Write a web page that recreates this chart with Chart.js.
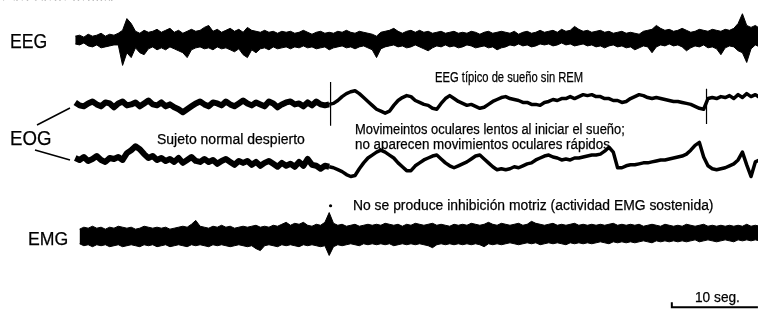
<!DOCTYPE html>
<html>
<head>
<meta charset="utf-8">
<script src="https://cdn.jsdelivr.net/npm/chart.js@4.4.0/dist/chart.umd.min.js"></script>
<style>
  body { margin: 0; background: #fff; }
  #wrap { position: relative; width: 762px; height: 316px; overflow: hidden;
          font-family: "Liberation Sans", Arial, sans-serif; color: #000; }
  canvas { position: absolute; left: 0; top: 0; }
  .lbl { position: absolute; white-space: nowrap; line-height: 1; transform-origin: left top;
         -webkit-text-stroke: 0.25px #000; }
</style>
</head>
<body>
<div id="wrap">
  <canvas id="chart" width="762" height="316"></canvas>
  <span class="lbl" data-w="113" style="left:0;top:-12px;font-size:14px">o del sueño normal</span>
  <span class="lbl" data-w="37" style="left:10px;top:31px;font-size:20px">EEG</span>
  <span class="lbl" data-w="41" style="left:10px;top:128px;font-size:20px">EOG</span>
  <span class="lbl" data-w="40" style="left:28px;top:229px;font-size:19px">EMG</span>
  <span class="lbl" data-w="148" style="left:435px;top:70px;font-size:14px">EEG típico de sueño sin REM</span>
  <span class="lbl" data-w="148" style="left:157px;top:132px;font-size:14px">Sujeto normal despierto</span>
  <span class="lbl" data-w="270" style="left:355px;top:122px;font-size:14px">Movimeintos oculares lentos al iniciar el sueño;</span>
  <span class="lbl" data-w="255" style="left:355px;top:137px;font-size:14px">no aparecen movimientos oculares rápidos</span>
  <span class="lbl" data-w="360" style="left:353px;top:198px;font-size:14px">No se produce inhibición motriz (actividad EMG sostenida)</span>
  <span class="lbl" data-w="45" style="left:695px;top:290px;font-size:14px">10 seg.</span>
</div>
<script>
// one sample every half second
var DT = 0.5;

// EEG: upper and lower edge of the trace
var eegHi = [
  3,4,2,5,3,4,6,3,5,4,
  6,9,21,16,8,6,9,7,8,10,
  7,9,11,7,9,6,8,10,8,9,
  12,14,8,10,7,9,11,8,10,7,
  12,9,8,7,9,7,8,6,8,7,
  8,6,7,9,7,5,7,8,6,7,
  6,8,7,9,7,6,8,7,6,5,
  3,7,8,9,11,8,6,8,9,7,
  9,7,8,6,7,8,6,7,8,6,
  7,6,8,7,5,7,8,6,7,8,
  7,6,8,5,7,8,6,7,9,7,
  8,9,7,10,8,9,13,10,8,9,
  7,8,9,7,8,6,7,8,6,7,
  6,5,8,9,10,14,11,9,10,8,
  9,11,9,7,8,10,9,8,10,9,
  8,10,9,11,16,26,14,12,14,11
];
var eegLo = [
  -5,-6,-4,-7,-8,-6,-9,-8,-7,-6,
  -6,-27,-14,-19,-9,-14,-16,-10,-8,-11,
  -9,-11,-8,-10,-12,-14,-19,-11,-9,-8,
  -10,-9,-11,-8,-10,-9,-11,-13,-10,-16,
  -19,-11,-14,-10,-9,-11,-8,-10,-9,-8,
  -10,-8,-9,-7,-9,-8,-10,-9,-8,-11,
  -9,-8,-7,-9,-8,-10,-8,-7,-9,-11,
  -19,-10,-8,-7,-6,-8,-7,-9,-8,-6,
  -8,-10,-12,-9,-7,-8,-6,-8,-7,-9,
  -8,-6,-7,-9,-8,-7,-9,-8,-11,-9,
  -8,-6,-7,-5,-7,-6,-8,-7,-5,-6,
  -5,-7,-6,-4,-6,-5,-7,-6,-5,-7,
  -6,-8,-7,-9,-7,-6,-8,-7,-9,-8,
  -11,-9,-7,-8,-14,-8,-6,-7,-5,-7,
  -6,-8,-12,-9,-7,-8,-6,-9,-8,-10,
  -16,-9,-7,-8,-12,-14,-24,-10,-6,-8
];

// EOG, upper and lower channel
var eogTop = [
  2,-1,-2,1,3,0,-2,2,1,-3,
  1,3,-1,0,2,-2,1,4,0,-1,
  2,-2,0,-3,-5,-8,-5,-2,1,3,
  0,-2,2,1,-1,3,0,-2,1,4,
  1,-1,2,0,-2,3,1,-3,0,2,
  3,0,1,-2,2,-1,3,0,-1,0,
  1,4,8,11,13,14,11,7,3,-1,
  -5,-7,-9,-7,-1,4,7,9,8,4,
  2,0,-1,-4,-5,1,6,9,6,3,
  1,-1,0,-2,-4,-3,0,3,5,7,
  8,6,5,4,2,2,0,0,-1,2,
  3,5,4,6,6,8,6,8,10,9,
  10,8,8,6,6,4,4,2,3,6,
  8,10,9,7,6,7,6,5,4,3,
  3,2,1,0,-2,-4,-5,6,7,6,
  8,7,9,6,10,7,11,8,10,7
];
var eogBot = [
  5,3,6,2,4,7,3,1,5,4,
  6,3,10,13,17,14,9,5,7,3,
  5,2,4,1,5,0,3,6,2,1,
  4,1,3,-1,2,4,1,-2,2,0,
  2,-2,1,-3,0,2,-1,-4,0,-3,
  -1,-4,1,-3,4,-2,-3,-6,-3,-4,
  -5,-7,-9,-12,-14,-13,-6,0,5,8,
  11,13,11,8,5,0,-4,-8,-8,-3,
  0,3,5,7,8,4,0,-3,-5,-3,
  -1,1,4,7,8,4,0,-4,-7,-6,
  -7,-6,-4,-5,-3,-1,0,3,5,7,
  8,6,5,3,4,3,5,5,6,7,
  8,8,9,12,16,11,-5,-5,-3,-2,
  -2,-1,0,0,1,2,3,3,4,5,
  6,7,9,13,18,21,6,-3,-6,-7,
  -6,-5,-3,-1,3,11,-2,-14,1,3
];

// EMG: upper and lower edge
var emgHi = [
  null,7,9,8,10,8,9,7,9,8,
  10,9,8,9,7,8,10,9,8,9,
  8,9,7,8,9,10,9,12,16,10,
  9,8,10,9,11,9,10,8,9,10,
  9,10,11,9,10,9,11,10,12,14,
  11,13,12,14,11,10,12,11,14,24,
  13,11,12,10,11,12,10,11,12,11,
  12,11,13,12,11,12,10,12,11,13,
  12,11,12,13,11,12,11,10,12,11,
  12,11,13,12,11,12,14,12,11,13,
  12,11,12,13,11,12,15,13,12,11,
  12,13,11,12,11,12,13,11,12,11,
  12,11,12,11,12,13,11,12,11,12,
  11,12,10,11,12,11,10,12,11,10,
  11,10,12,11,10,11,12,10,11,10,
  11,10,11,10,11,10,12,10,11,10
];
var emgLo = [
  null,-8,-10,-9,-11,-9,-10,-9,-11,-10,
  -9,-11,-10,-9,-10,-11,-9,-10,-9,-11,
  -10,-9,-11,-10,-9,-10,-11,-9,-10,-9,
  -10,-11,-9,-10,-9,-10,-11,-10,-9,-10,
  -11,-10,-13,-15,-10,-9,-10,-11,-9,-10,
  -9,-10,-11,-9,-10,-9,-10,-11,-10,-20,
  -11,-9,-10,-9,-8,-9,-10,-8,-9,-8,
  -9,-8,-9,-8,-10,-9,-8,-9,-8,-9,
  -8,-9,-10,-12,-9,-8,-9,-8,-9,-8,
  -9,-8,-9,-8,-9,-11,-8,-9,-8,-9,
  -8,-7,-8,-9,-8,-7,-8,-7,-9,-8,
  -7,-8,-7,-8,-9,-7,-8,-7,-8,-7,
  -8,-7,-6,-7,-8,-6,-7,-6,-7,-6,
  -7,-6,-5,-6,-7,-5,-6,-5,-6,-5,
  -6,-5,-6,-5,-4,-6,-5,-4,-5,-6,
  -5,-4,-5,-6,-4,-5,-4,-5,-4,-5
];

// event marks (seconds) crossing the upper EOG channel
var markT = [29.66, 73.33];
var markTop = [23, 16];
var markBot = [-22, -20];
// dot above the EMG at the first event
var emgDotT = 29.66;
var emgDotV = 31;
// 10 second calibration bar
var scaleBarT = [69.3, 79.3];

// vertical place of each trace on the page
var BASE_EEG = 280, BASE_EOG1 = 213, BASE_EOG2 = 153, BASE_EMG = 78, BASE_BAR = 5;
// the subject is awake for the first samples, thicker noisy trace there
var AWAKE_END = 59;

function series(vals, base) {
  return vals.map(function(v, i) {
    return { x: i * DT, y: v === null ? null : base + v };
  });
}

var marks = [];
for (var m = 0; m < markT.length; m++) {
  if (m > 0) marks.push({ x: markT[m], y: null });
  marks.push({ x: markT[m], y: BASE_EOG1 + markTop[m] });
  marks.push({ x: markT[m], y: BASE_EOG1 + markBot[m] });
}

var bar = [
  { x: scaleBarT[0], y: BASE_BAR + 5 },
  { x: scaleBarT[0], y: BASE_BAR },
  { x: scaleBarT[1], y: BASE_BAR }
];

function band(data, fill) {
  return { data: data, borderColor: '#000', backgroundColor: '#000', borderWidth: 1,
           fill: fill, pointRadius: 0, tension: 0, spanGaps: false };
}

function eogLine(data) {
  return {
    data: data, borderColor: '#000', borderWidth: 3.5, fill: false,
    pointRadius: 0, tension: 0, borderJoinStyle: 'round',
    segment: { borderWidth: function(s) { return s.p0DataIndex < AWAKE_END ? 6 : 3.5; } }
  };
}

var connectors = {
  id: 'connectors',
  afterDatasetsDraw: function(chart) {
    var c = chart.ctx;
    c.save();
    c.strokeStyle = '#000';
    c.lineWidth = 1.5;
    c.beginPath();
    c.moveTo(37, 125); c.lineTo(70, 108);
    c.moveTo(35, 150); c.lineTo(70, 160);
    c.stroke();
    c.restore();
  }
};

var ctx = document.getElementById('chart');
var chart = new Chart(ctx, {
  type: 'line',
  data: {
    datasets: [
      band(series(eegHi, BASE_EEG), '+1'),
      band(series(eegLo, BASE_EEG), false),
      eogLine(series(eogTop, BASE_EOG1)),
      eogLine(series(eogBot, BASE_EOG2)),
      band(series(emgHi, BASE_EMG), '+1'),
      band(series(emgLo, BASE_EMG), false),
      { data: marks, borderColor: '#000', borderWidth: 1.2, pointRadius: 0, fill: false, spanGaps: false },
      { data: [{ x: emgDotT, y: BASE_EMG + emgDotV }], showLine: false, pointRadius: 1.6,
        pointBackgroundColor: '#000', pointBorderWidth: 0 },
      { data: bar, borderColor: '#000', borderWidth: 2, pointRadius: 0, fill: false }
    ]
  },
  options: {
    responsive: false,
    animation: false,
    devicePixelRatio: 1,
    layout: { padding: 0 },
    plugins: { legend: { display: false }, tooltip: { enabled: false } },
    scales: {
      x: { type: 'linear', min: -72 / 8.7, max: 690 / 8.7, display: false },
      y: { type: 'linear', min: 0, max: 316, display: false }
    }
  },
  plugins: [connectors]
});

// squeeze each label to the width it has in the figure
document.querySelectorAll('.lbl').forEach(function(el) {
  var k = (+el.dataset.w) / el.offsetWidth;
  el.style.transform = 'scaleX(' + k.toFixed(3) + ')';
});
</script>
</body>
</html>
